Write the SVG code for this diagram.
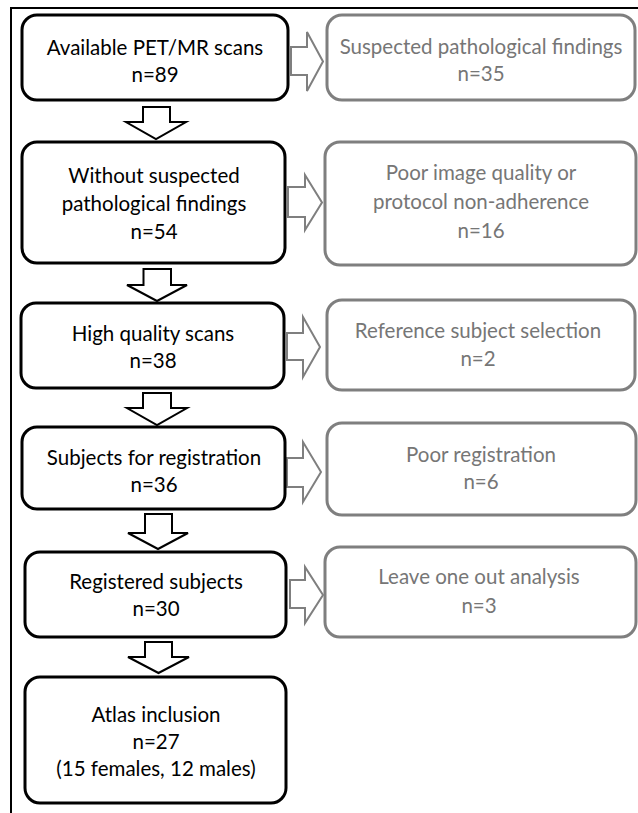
<svg xmlns="http://www.w3.org/2000/svg" width="638" height="813" viewBox="0 0 638 813">
<style>
.main{fill:#fff;stroke:#000;stroke-width:3}
.side{fill:#fff;stroke:#7f7f7f;stroke-width:3}
.down{fill:#fff;stroke:#000;stroke-width:2;stroke-linejoin:miter}
.right{fill:#fff;stroke:#7f7f7f;stroke-width:2;stroke-linejoin:miter}
text{font-family:Lato,"Liberation Sans",sans-serif;font-size:20.5px;text-anchor:middle}
.t{fill:#000}
.g{fill:#767676}
.frame{stroke:#000;stroke-width:2;fill:none}
</style>
<rect width="638" height="813" fill="#fff"/>
<path class="frame" d="M11,813 L11,8 L638,8"/>
<g id="connectors">
<path class="down" d="M143,107 L170,107 L170,122 L186,122 L156,139 L126,122 L143,122 Z"/>
<path class="down" d="M143.5,269 L171,269 L171,285 L187,285 L157,301 L127,285 L143.5,285 Z"/>
<path class="down" d="M143,393 L171,393 L171,408 L187,408 L157,425 L127,408 L143,408 Z"/>
<path class="down" d="M145,514 L172,514 L172,533 L188,533 L158,549 L128,533 L145,533 Z"/>
<path class="down" d="M145,642 L172,642 L172,657 L189,657 L158.5,673 L128,657 L145,657 Z"/>
<path class="right" d="M291,47 L307,47 L307,32 L323,61.5 L307,91 L307,75 L291,75 Z"/>
<path class="right" d="M288,187 L305,187 L305,175 L322,202.5 L305,230 L305,217 L288,217 Z"/>
<path class="right" d="M287,333 L303,333 L303,317 L320,347 L303,377 L303,360 L287,360 Z"/>
<path class="right" d="M287,458 L303,458 L303,442 L321,472 L303,502 L303,487 L287,487 Z"/>
<path class="right" d="M290,580 L305,580 L305,567 L323,595 L305,623 L305,608 L290,608 Z"/>
</g>
<g id="n1"><rect class="main" x="22" y="15" width="266" height="85" rx="15"/>
<text class="t" x="155" y="55">Available PET/MR scans</text><text class="t" x="155" y="82">n=89</text></g>
<g id="n2"><rect class="main" x="22" y="142" width="263" height="121" rx="15"/>
<text class="t" x="154" y="183">Without suspected</text><text class="t" x="154" y="211">pathological findings</text><text class="t" x="154" y="239">n=54</text></g>
<g id="n3"><rect class="main" x="21" y="303" width="263" height="85" rx="15"/>
<text class="t" x="153" y="341">High quality scans</text><text class="t" x="153" y="368">n=38</text></g>
<g id="n4"><rect class="main" x="22" y="427" width="263" height="82" rx="15"/>
<text class="t" x="154" y="465">Subjects for registration</text><text class="t" x="154" y="492">n=36</text></g>
<g id="n5"><rect class="main" x="25" y="552" width="261" height="85" rx="15"/>
<text class="t" x="156" y="589">Registered subjects</text><text class="t" x="156" y="616">n=30</text></g>
<g id="n6"><rect class="main" x="25" y="677" width="261" height="126" rx="15"/>
<text class="t" x="156" y="722">Atlas inclusion</text><text class="t" x="156" y="749">n=27</text><text class="t" x="156" y="776">(15 females, 12 males)</text></g>
<g id="s1"><rect class="side" x="327" y="15" width="308" height="85" rx="15"/>
<text class="g" x="481" y="54">Suspected pathological findings</text><text class="g" x="481" y="81">n=35</text></g>
<g id="s2"><rect class="side" x="325" y="142" width="311" height="123" rx="15"/>
<text class="g" x="481" y="180">Poor image quality or</text><text class="g" x="481" y="209">protocol non-adherence</text><text class="g" x="481" y="238">n=16</text></g>
<g id="s3"><rect class="side" x="327" y="300" width="308" height="90" rx="15"/>
<text class="g" x="478" y="338">Reference subject selection</text><text class="g" x="478" y="366">n=2</text></g>
<g id="s4"><rect class="side" x="327" y="423" width="309" height="92" rx="15"/>
<text class="g" x="481" y="462">Poor registration</text><text class="g" x="481" y="489">n=6</text></g>
<g id="s5"><rect class="side" x="325" y="547" width="311" height="90" rx="15"/>
<text class="g" x="479" y="584">Leave one out analysis</text><text class="g" x="479" y="613">n=3</text></g>
</svg>
